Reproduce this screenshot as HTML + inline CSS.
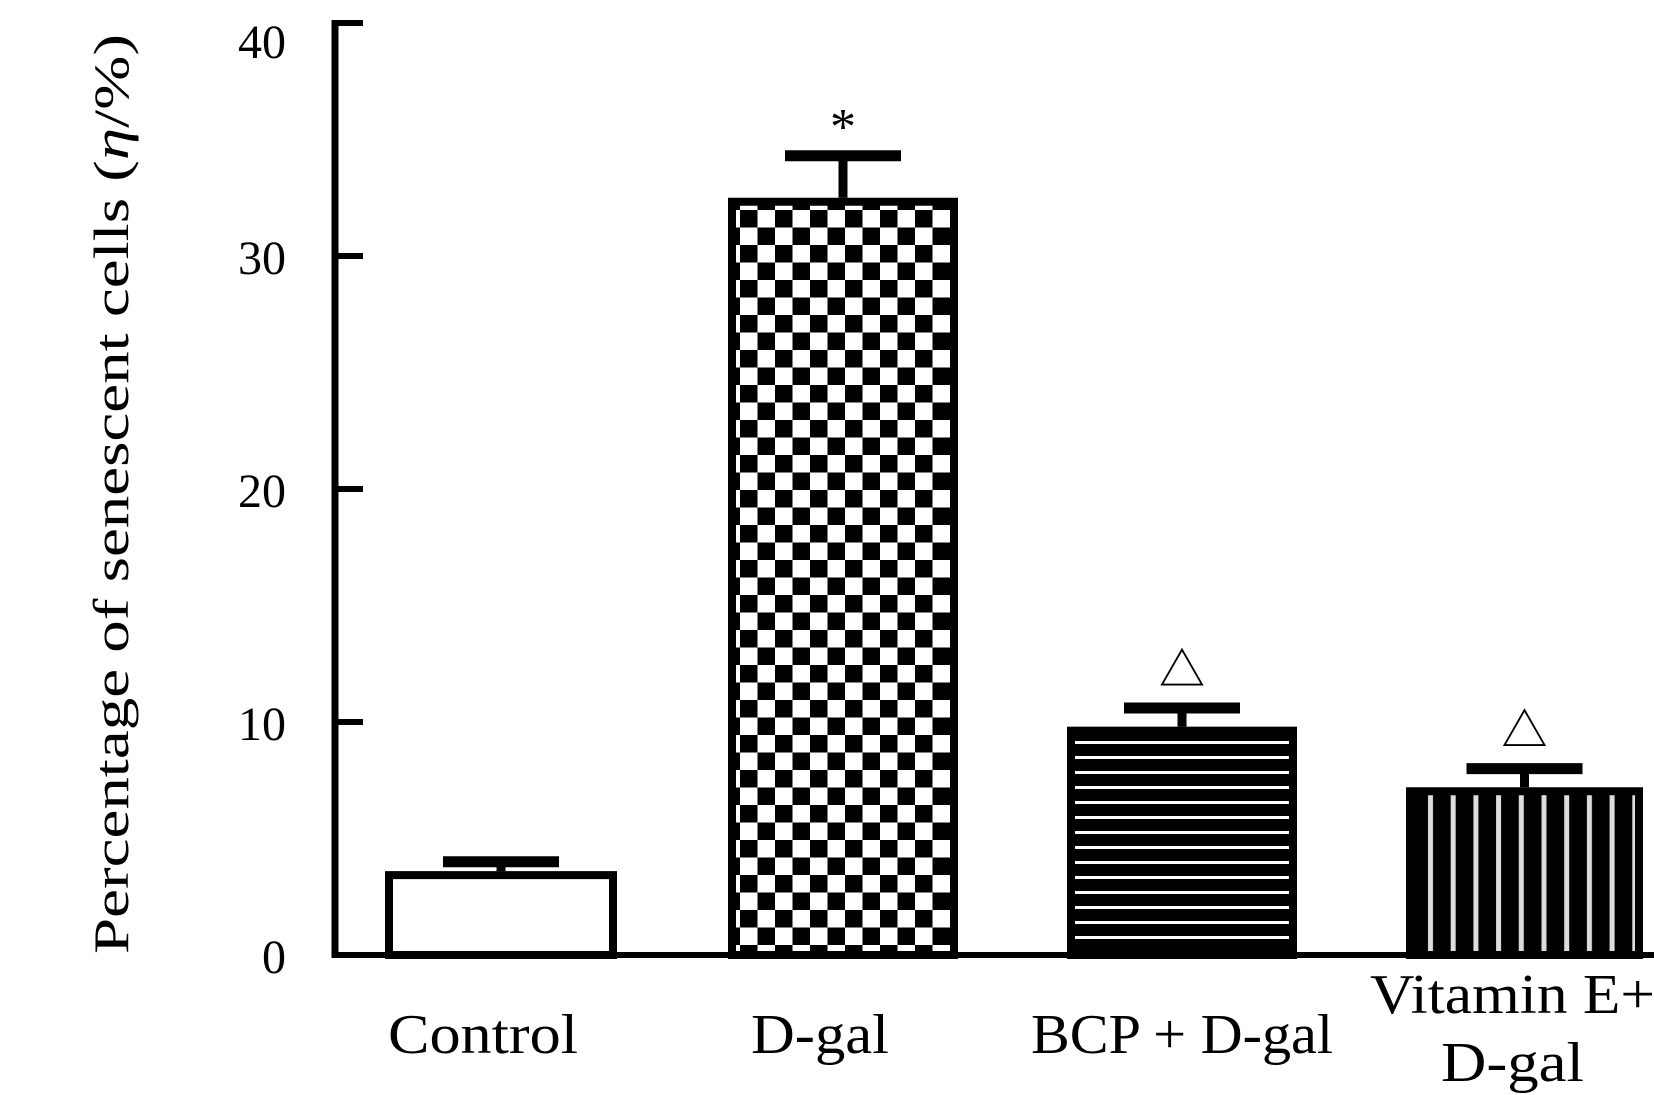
<!DOCTYPE html>
<html><head><meta charset="utf-8"><style>
html,body{margin:0;padding:0;background:#fff;}
svg{display:block;font-family:"Liberation Serif","Noto Serif CJK SC",serif;}
</style></head><body>
<svg id="chart" width="1654" height="1095" viewBox="0 0 1654 1095" xmlns="http://www.w3.org/2000/svg">
<defs>
<pattern id="checker" patternUnits="userSpaceOnUse" width="35" height="35" x="740" y="210">
<rect width="35" height="35" fill="#fff"/><rect width="17.5" height="17.5" fill="#000"/><rect x="17.5" y="17.5" width="17.5" height="17.5" fill="#000"/>
</pattern>
<pattern id="hstripe" patternUnits="userSpaceOnUse" width="20" height="15" x="0" y="0">
<rect width="20" height="15" fill="#000"/><rect y="6" width="20" height="3" fill="#fff"/>
</pattern>
<pattern id="vstripe" patternUnits="userSpaceOnUse" width="22.7" height="20" x="1423" y="0">
<rect width="22.7" height="20" fill="#000"/><rect x="5" width="5" height="20" fill="#ddd"/>
</pattern>
</defs>
<g id="axes"></g>
<g id="bars"></g>
<text transform="translate(128,494) rotate(-90)" text-anchor="middle" font-size="50" textLength="920" lengthAdjust="spacingAndGlyphs">Percentage of senescent cells (<tspan font-style="italic">η</tspan>/%)</text>
</svg>
<script>
const categories=["Control","D-gal","BCP + D-gal","Vitamin E+|D-gal"];
const values=[3.6,32.5,9.8,7.2];
const errors=[0.4,1.8,0.8,0.8];
const marks=["","*","△","△"];
const yTicks=[0,10,20,30,40];
const fills=["#fff","url(#checker)","url(#hstripe)","url(#vstripe)"];
const labelW=[[190],[138],[302],[285,143]];
const labelDx=[-18,-23,0,-12];
const NS="http://www.w3.org/2000/svg";
const x0=335,yBase=955,yTop=23,ymax=40;
const y=v=>yBase-(v/ymax)*(yBase-yTop);
const barL=[385,728,1067,1406],barW=[232,230,230,237];
function mk(tag,attrs,parent){const e=document.createElementNS(NS,tag);for(const k in attrs)e.setAttribute(k,attrs[k]);parent.appendChild(e);return e;}
const ax=document.getElementById('axes'),bg=document.getElementById('bars');
yTicks.forEach(t=>{
 const l=mk('line',{x1:x0,x2:x0+28,y1:y(t),y2:y(t),stroke:'#000','stroke-width':6},ax);
 
 
 const tx=mk('text',{x:286,y:Math.max(y(t)+18,58),'text-anchor':'end','font-size':48},ax);
 tx.textContent=t;
 
 
});
categories.forEach((c,i)=>{
 const L=barL[i],W=barW[i],cx=L+W/2,top=y(values[i]);
 const r=mk('rect',{x:L+4,y:top+4,width:W-8,height:yBase-top-4,fill:fills[i],stroke:'#000','stroke-width':8},bg);
 
 
 const et=y(values[i]+errors[i]);
 const e1=mk('line',{x1:cx,x2:cx,y1:et,y2:top,stroke:'#000','stroke-width':9},bg);
 
 
 const e2=mk('line',{x1:cx-58,x2:cx+58,y1:et,y2:et,stroke:'#000','stroke-width':11},bg);
 
 
 if(marks[i]){const m=mk('text',{x:cx,y:et-(marks[i]=='*'?12:22),'text-anchor':'middle','font-size':marks[i]=='*'?52:46},bg);m.textContent=marks[i];
  
  }
 const parts=c.split('|');
 parts.forEach((p,j)=>{
  const t=mk('text',{x:cx+labelDx[i],y:(parts.length>1?1013:1053)+j*68,'text-anchor':'middle','font-size':56,textLength:labelW[i][j],lengthAdjust:'spacingAndGlyphs'},bg);
  t.textContent=p;
  
  
 });
});
const ya=mk('line',{x1:x0,x2:x0,y1:yTop-3,y2:yBase+3,stroke:'#000','stroke-width':7},ax);


const xa=mk('line',{x1:x0-3,x2:1654,y1:yBase,y2:yBase,stroke:'#000','stroke-width':6},ax);


</script>
</body></html>
